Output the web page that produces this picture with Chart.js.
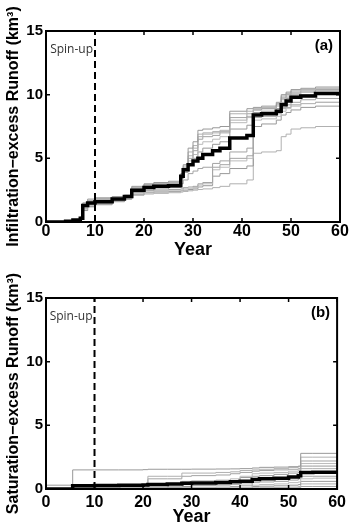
<!DOCTYPE html>
<html>
<head>
<meta charset="utf-8">
<script src="https://cdn.jsdelivr.net/npm/chart.js@4.4.1/dist/chart.umd.min.js"></script>
<style>
body { margin: 0; background: #fff; }
canvas { display: block; }
</style>
</head>
<body>
<canvas id="chartA" width="352" height="263"></canvas>
<canvas id="chartB" width="352" height="263"></canvas>
<script>
// Axis ticks and the spin-up marker
const xTicks = [0, 10, 20, 30, 40, 50, 60];
const yTicks = [0, 5, 10, 15];
const spinUpYear = 10;

// Panel (a): infiltration-excess runoff, years where the curves step
const yearsA = [0, 4, 5.5, 7, 7.5, 8.5, 10, 13.5, 16, 17.5, 20, 22, 25, 27.5, 28, 29, 30, 31, 32, 34, 35.5, 37.5, 41, 42.3, 44, 47, 48, 49, 50, 52, 55, 60];
const meanA = [0, 0.05, 0.15, 0.3, 1.3, 1.5, 1.6, 1.8, 2.0, 2.5, 2.7, 2.8, 2.85, 3.6, 4.1, 4.5, 4.8, 5.0, 5.3, 5.6, 5.8, 6.6, 6.8, 8.4, 8.5, 8.7, 9.2, 9.5, 9.8, 9.9, 10.1, 10.2];
const runsA = [
  [0, 0.05, 0.2, 0.4, 1.5, 1.8, 1.9, 2.0, 2.1, 2.8, 3.0, 3.1, 3.2, 3.8, 4.5, 5.8, 6.3, 7.2, 7.3, 7.4, 7.5, 8.7, 8.9, 9.0, 9.1, 9.4, 10.0, 10.2, 10.4, 10.5, 10.6, 10.8],
  [0, 0.05, 0.2, 0.35, 1.4, 1.7, 1.85, 1.95, 2.1, 2.7, 2.95, 3.05, 3.1, 3.7, 4.4, 5.5, 6.0, 6.9, 7.0, 7.1, 7.2, 8.5, 8.7, 8.9, 9.0, 9.3, 9.9, 10.1, 10.3, 10.4, 10.5, 10.6],
  [0, 0.05, 0.15, 0.3, 1.4, 1.65, 1.8, 1.9, 2.05, 2.65, 2.9, 3.0, 3.05, 3.6, 4.2, 5.0, 5.6, 6.5, 6.7, 6.8, 7.0, 8.2, 8.5, 8.8, 8.9, 9.2, 9.8, 10.0, 10.2, 10.3, 10.4, 10.5],
  [0, 0.05, 0.15, 0.3, 1.3, 1.6, 1.75, 1.85, 2.0, 2.6, 2.85, 2.95, 3.0, 3.5, 4.0, 4.8, 5.3, 6.1, 6.3, 6.5, 6.7, 7.8, 8.2, 8.8, 8.9, 9.1, 9.7, 9.9, 10.1, 10.2, 10.3, 10.4],
  [0, 0.05, 0.1, 0.25, 1.2, 1.5, 1.6, 1.75, 1.95, 2.5, 2.75, 2.85, 2.9, 3.4, 3.9, 4.6, 5.0, 5.5, 5.8, 6.1, 6.3, 7.3, 7.6, 8.6, 8.7, 8.9, 9.4, 9.7, 9.9, 10.0, 10.1, 10.2],
  [0, 0.05, 0.15, 0.3, 1.3, 1.55, 1.7, 1.8, 2.0, 2.6, 2.8, 2.9, 3.0, 3.5, 4.3, 5.2, 5.8, 6.7, 6.9, 7.0, 7.1, 8.0, 8.3, 8.5, 8.6, 8.9, 9.6, 9.8, 10.0, 10.2, 10.3, 10.4],
  [0, 0.05, 0.1, 0.25, 1.1, 1.4, 1.5, 1.7, 1.9, 2.3, 2.45, 2.5, 2.55, 2.6, 2.7, 2.75, 2.8, 3.0, 3.1, 4.3, 4.5, 5.0, 5.2, 8.4, 8.5, 8.7, 9.0, 9.2, 9.4, 9.6, 9.7, 9.8],
  [0, 0.05, 0.1, 0.2, 1.0, 1.3, 1.45, 1.65, 1.85, 2.2, 2.35, 2.4, 2.45, 2.5, 2.6, 2.65, 2.7, 2.9, 3.0, 4.1, 4.3, 4.8, 5.0, 8.0, 8.1, 8.3, 8.7, 8.9, 9.1, 9.3, 9.4, 9.5],
  [0, 0.05, 0.1, 0.2, 0.9, 1.2, 1.4, 1.6, 1.8, 2.15, 2.3, 2.35, 2.4, 2.45, 2.5, 2.55, 2.6, 2.75, 2.85, 3.6, 3.8, 4.2, 4.4, 7.5, 7.7, 8.0, 8.4, 8.6, 8.8, 9.0, 9.1, 9.2],
  [0, 0.05, 0.1, 0.2, 0.9, 1.2, 1.35, 1.6, 1.8, 2.1, 2.2, 2.25, 2.3, 2.35, 2.4, 2.45, 2.5, 2.55, 2.6, 2.7, 2.8, 3.0, 3.3, 5.4, 5.5, 5.6, 6.7, 6.9, 7.3, 7.4, 7.5, 7.6],
  [0, 0.05, 0.1, 0.25, 1.1, 1.35, 1.5, 1.7, 1.9, 2.3, 2.5, 2.6, 2.7, 3.0, 3.3, 3.8, 4.0, 4.2, 4.3, 4.6, 4.8, 5.5, 5.8, 8.2, 8.3, 8.5, 8.9, 9.0, 9.2, 9.3, 9.4, 9.5]
];

// Panel (b): saturation-excess runoff
const yearsB = [0, 5.5, 10, 15, 20, 21, 25, 28, 30, 35, 38, 40, 42.5, 44, 47, 50, 52, 52.5, 55, 60];
const meanB = [0, 0.25, 0.28, 0.3, 0.32, 0.35, 0.4, 0.45, 0.48, 0.52, 0.56, 0.6, 0.75, 0.8, 0.85, 0.95, 1.05, 1.3, 1.32, 1.35];
const runsB = [
  [0.3, 1.5, 1.5, 1.5, 1.52, 1.55, 1.55, 1.55, 1.56, 1.57, 1.58, 1.6, 1.65, 1.7, 1.72, 1.75, 1.8, 2.8, 2.8, 2.8],
  [0, 0.1, 0.1, 0.12, 0.15, 1.0, 1.0, 1.25, 1.25, 1.3, 1.35, 1.45, 1.5, 1.55, 1.6, 1.7, 1.75, 2.5, 2.5, 2.5],
  [0, 0.05, 0.05, 0.08, 0.1, 0.8, 0.8, 1.0, 1.05, 1.1, 1.2, 1.3, 1.4, 1.45, 1.5, 1.55, 1.6, 2.2, 2.2, 2.2],
  [0, 0.05, 0.05, 0.05, 0.1, 0.15, 0.2, 0.6, 0.65, 0.7, 0.8, 1.0, 1.2, 1.25, 1.3, 1.4, 1.5, 2.0, 2.0, 2.0],
  [0, 0.05, 0.05, 0.05, 0.1, 0.1, 0.15, 0.2, 0.3, 0.4, 0.6, 0.9, 1.0, 1.05, 1.15, 1.25, 1.3, 1.8, 1.8, 1.8],
  [0, 0.02, 0.05, 0.05, 0.08, 0.1, 0.15, 0.2, 0.25, 0.3, 0.35, 0.4, 0.8, 0.85, 0.9, 1.0, 1.1, 1.6, 1.6, 1.6],
  [0, 0.02, 0.02, 0.03, 0.05, 0.05, 0.08, 0.1, 0.1, 0.15, 0.2, 0.25, 0.5, 0.55, 0.6, 0.7, 0.8, 1.0, 1.0, 1.05],
  [0, 0, 0, 0, 0.02, 0.02, 0.03, 0.05, 0.05, 0.08, 0.1, 0.12, 0.3, 0.35, 0.4, 0.5, 0.55, 0.8, 0.85, 0.9],
  [0, 0, 0, 0, 0, 0, 0, 0.02, 0.02, 0.03, 0.05, 0.05, 0.2, 0.22, 0.25, 0.3, 0.35, 0.6, 0.6, 0.65],
  [0, 0, 0, 0, 0, 0, 0, 0, 0, 0, 0, 0, 0.1, 0.1, 0.12, 0.15, 0.2, 0.4, 0.4, 0.45],
  [0, 0, 0, 0, 0, 0, 0, 0, 0, 0, 0, 0, 0.02, 0.05, 0.05, 0.08, 0.1, 0.2, 0.2, 0.25]
];

const grays = ['#999999', '#b0b0b0', '#a3a3a3', '#bbbbbb'];

// Draws the matlab style box, inward ticks and the panel texts
const matlabBox = {
    id: 'matlabBox',
    afterDatasetsDraw(chart, args, opts) {
        const ctx = chart.ctx;
        const a = chart.chartArea;
        const x = chart.scales.x;
        const y = chart.scales.y;
        ctx.save();
        ctx.strokeStyle = '#000';
        ctx.lineWidth = 1.5;
        ctx.beginPath();
        x.ticks.forEach(t => {
            const px = x.getPixelForValue(t.value);
            ctx.moveTo(px, a.bottom); ctx.lineTo(px, a.bottom - 4);
            ctx.moveTo(px, a.top); ctx.lineTo(px, a.top + 4);
        });
        y.ticks.forEach(t => {
            const py = y.getPixelForValue(t.value);
            ctx.moveTo(a.left, py); ctx.lineTo(a.left + 4, py);
            ctx.moveTo(a.right, py); ctx.lineTo(a.right - 4, py);
        });
        ctx.stroke();
        ctx.lineWidth = 2;
        ctx.strokeRect(a.left, a.top, a.right - a.left, a.bottom - a.top);

        ctx.fillStyle = '#333';
        ctx.font = '12px "Open Sans"';
        ctx.textAlign = 'right';
        ctx.textBaseline = 'alphabetic';
        ctx.fillText('Spin-up', x.getPixelForValue(spinUpYear) - 2, a.top + 22);
        ctx.fillStyle = '#000';
        ctx.font = 'bold 15px "Liberation Sans"';
        ctx.fillText(opts.tag, a.right - 7, a.top + 19);
        ctx.restore();
    }
};

function makeDatasets(years, mean, runs) {
    const toPoints = vals => vals.map((v, i) => ({ x: years[i], y: v }));
    const sets = [];
    sets.push({
        data: [{ x: spinUpYear, y: 0 }, { x: spinUpYear, y: 15 }],
        borderColor: '#000',
        borderWidth: 2,
        borderDash: [7, 4],
        pointRadius: 0
    });
    sets.push({
        data: toPoints(mean),
        borderColor: '#000',
        borderWidth: 3.5,
        stepped: true,
        pointRadius: 0
    });
    runs.forEach((r, i) => {
        sets.push({
            data: toPoints(r),
            borderColor: grays[i % grays.length],
            borderWidth: 1,
            stepped: true,
            pointRadius: 0
        });
    });
    return sets;
}

function makeChart(id, years, mean, runs, yTitle, tag, topPad, xHeight, tickPad, titlePad) {
    const ctx = document.getElementById(id).getContext('2d');
    return new Chart(ctx, {
        type: 'line',
        data: { datasets: makeDatasets(years, mean, runs) },
        plugins: [matlabBox],
        options: {
            responsive: false,
            animation: false,
            layout: { padding: { top: topPad, right: 12, left: 0, bottom: 0 } },
            plugins: {
                legend: { display: false },
                tooltip: { enabled: false },
                matlabBox: { tag: tag }
            },
            scales: {
                x: {
                    type: 'linear',
                    min: 0,
                    max: 60,
                    afterBuildTicks: s => { s.ticks = xTicks.map(v => ({ value: v })); },
                    afterFit: s => { s.height = xHeight; },
                    grid: { display: false, drawTicks: false },
                    border: { display: false },
                    ticks: {
                        color: '#000',
                        padding: tickPad,
                        font: { family: '"Liberation Sans", Arial, sans-serif', size: 16, weight: 'bold', lineHeight: 1 }
                    },
                    title: {
                        display: true,
                        text: 'Year',
                        color: '#000',
                        padding: { top: 0, bottom: titlePad },
                        font: { family: '"Liberation Sans", Arial, sans-serif', size: 18, weight: 'bold', lineHeight: 1 }
                    }
                },
                y: {
                    type: 'linear',
                    min: 0,
                    max: 15,
                    afterBuildTicks: s => { s.ticks = yTicks.map(v => ({ value: v })); },
                    afterFit: s => { s.width = 46; },
                    grid: { display: false, drawTicks: false },
                    border: { display: false },
                    ticks: {
                        color: '#000',
                        padding: 3,
                        font: { family: '"Liberation Sans", Arial, sans-serif', size: 15, weight: 'bold' }
                    },
                    title: {
                        display: true,
                        text: yTitle,
                        color: '#000',
                        padding: { top: 6, bottom: 0 },
                        font: { family: '"Liberation Sans", Arial, sans-serif', size: 16, weight: 'bold', lineHeight: 1 }
                    }
                }
            }
        }
    });
}

makeChart('chartA', yearsA, meanA, runsA, 'Infiltration\u2212excess Runoff (km\u00b3)', '(a)', 31, 41, 2, 4);
makeChart('chartB', yearsB, meanB, runsB, 'Saturation\u2212excess Runoff (km\u00b3)', '(b)', 35, 37, 6, 0);
</script>
</body>
</html>
